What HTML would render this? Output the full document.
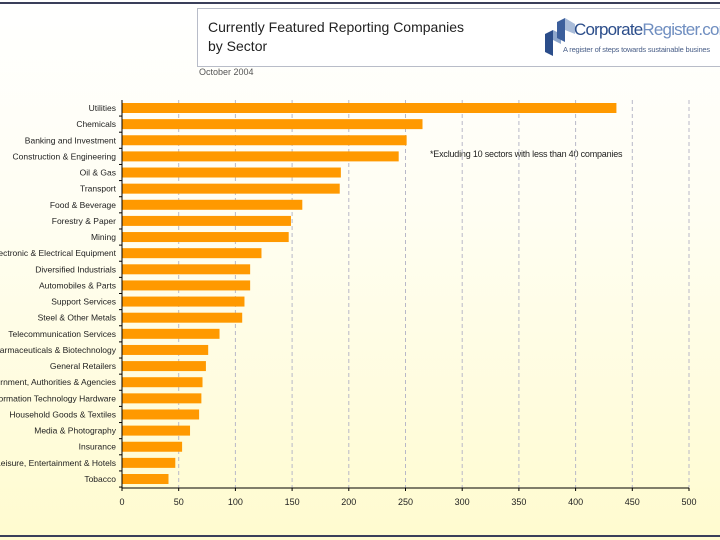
<!DOCTYPE html>
<html><head><meta charset="utf-8"><style>
body{margin:0;width:720px;height:540px;overflow:hidden;font-family:"Liberation Sans",sans-serif;position:relative;}
#bg{position:absolute;left:0;top:0;width:720px;height:540px;background:linear-gradient(#ffffff 0%,#fffef2 40%,#fffbcf 100%);}
</style></head><body>
<div id="bg"></div>
<div style="position:absolute;left:0;top:2px;width:720px;height:2px;background:#3a3f5a"></div>
<div style="position:absolute;left:0;top:535px;width:720px;height:2px;background:#3a3f5a"></div>
<div style="position:absolute;left:197px;top:8px;width:530px;height:57px;border:1px solid #b8bcc8;background:#fff"></div>
<div style="position:absolute;left:208px;top:18px;font-size:14px;line-height:19px;color:#222">Currently Featured Reporting Companies<br>by Sector</div>
<svg style="position:absolute;left:543px;top:12px" width="40" height="46"><polygon points="2,22 10,18 10,44 2,40" fill="#2b4d8a"/><polygon points="10,18 18,22 18,32 10,28" fill="#8ea7cc"/><polygon points="14,10 22,6 22,30 14,26" fill="#3c5f9c"/><polygon points="22,6 32,12 32,22 22,18" fill="#a9bcd9"/></svg>
<div style="position:absolute;left:574px;top:20px;font-size:17px;color:#2b4d8a;letter-spacing:-0.8px;white-space:nowrap">Corporate<span style="color:#6f8ec0">Register.com</span></div>
<div style="position:absolute;left:563px;top:45px;font-size:7.5px;color:#4a5f88;white-space:nowrap;letter-spacing:-0.2px">A register of steps towards sustainable busines</div>
<div style="position:absolute;left:199px;top:67px;font-size:9px;color:#555">October 2004</div>
<div style="position:absolute;left:430px;top:149px;font-size:9px;color:#222;letter-spacing:-0.2px">*Excluding 10 sectors with less than 40 companies</div>
<svg id="chart" style="position:absolute;left:0;top:0" width="720" height="540"></svg>
<script>
const categories=["Utilities","Chemicals","Banking and Investment","Construction & Engineering","Oil & Gas","Transport","Food & Beverage","Forestry & Paper","Mining","Electronic & Electrical Equipment","Diversified Industrials","Automobiles & Parts","Support Services","Steel & Other Metals","Telecommunication Services","Pharmaceuticals & Biotechnology","General Retailers","Government, Authorities & Agencies","Information Technology Hardware","Household Goods & Textiles","Media & Photography","Insurance","Leisure, Entertainment & Hotels","Tobacco"];
const values=[436,265,251,244,193,192,159,149,147,123,113,113,108,106,86,76,74,71,70,68,60,53,47,41];
const ticks=[0,50,100,150,200,250,300,350,400,450,500];
const NS="http://www.w3.org/2000/svg",svg=document.getElementById("chart");
const x0=122,x1=689,maxV=500,yTop=100,yAxis=488,y0=108,step=(479-108)/(categories.length-1);
const xs=v=>x0+(x1-x0)*v/maxV, ys=i=>y0+i*step;
function mk(t,a){const e=document.createElementNS(NS,t);for(const k in a)e.setAttribute(k,a[k]);svg.appendChild(e);return e;}
ticks.forEach(t=>{
 if(t>0){const g=mk("line",{x1:xs(t),x2:xs(t),y1:yTop,y2:yAxis,stroke:"#b8b8c8","stroke-dasharray":"4,3","stroke-width":1});
 
 }
 const tl=mk("text",{x:xs(t),y:505,"font-size":9,"text-anchor":"middle",fill:"#222","font-family":"Liberation Sans, sans-serif"});tl.textContent=t;
 
 
 const tk=mk("line",{x1:xs(t),x2:xs(t),y1:yAxis,y2:yAxis+3,stroke:"#000"});
 
 
});
categories.forEach((c,i)=>{
 const b=mk("rect",{x:x0,y:ys(i)-5,width:xs(values[i])-x0,height:10,fill:"#ff9900"});
 
 
 const l=mk("text",{x:116,y:ys(i)+3,"font-size":8.5,"text-anchor":"end",fill:"#222","font-family":"Liberation Sans, sans-serif"});l.textContent=c;
 
 
 const tk=mk("line",{x1:x0-3,x2:x0,y1:ys(i)+step/2,y2:ys(i)+step/2,stroke:"#000"});
 
 
});
const ya=mk("line",{x1:x0,x2:x0,y1:yTop,y2:yAxis,stroke:"#000"});


const xa=mk("line",{x1:x0,x2:x1,y1:yAxis,y2:yAxis,stroke:"#000"});


</script>
</body></html>
